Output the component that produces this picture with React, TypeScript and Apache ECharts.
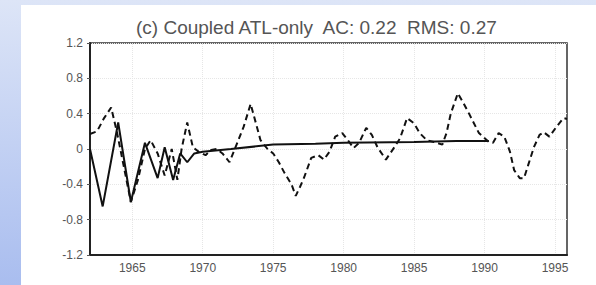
import React, { useEffect, useRef } from "react";
import * as echarts from "echarts";

const titleText = "(c) Coupled ATL-only  AC: 0.22  RMS: 0.27";

const xTickYears = [1965, 1970, 1975, 1980, 1985, 1990, 1995];
const yTickValues = [-1.2, -0.8, -0.4, 0, 0.4, 0.8, 1.2];

// dashed series (observed)
const dashedYears = [
  1962.0, 1962.5, 1963.0, 1963.5, 1963.9, 1964.4, 1964.9, 1965.4, 1965.9, 1966.3,
  1966.8, 1967.3, 1967.8, 1968.2, 1968.5, 1968.9, 1969.3, 1969.7, 1970.2, 1970.6,
  1971.0, 1971.4, 1971.9, 1972.4, 1972.9, 1973.4, 1974.1, 1974.6, 1975.0, 1975.4,
  1975.8, 1976.3, 1976.6, 1976.9, 1977.2, 1977.7, 1978.2, 1978.6, 1979.0, 1979.4,
  1979.9, 1980.3, 1980.7, 1981.1, 1981.6, 1982.0, 1982.4, 1983.0, 1983.6, 1984.0,
  1984.5, 1985.0, 1985.4, 1985.9, 1986.4, 1987.0, 1987.3, 1987.6, 1988.1, 1988.5,
  1988.9, 1989.6, 1990.3, 1990.6, 1991.0, 1991.4, 1991.8, 1992.1, 1992.5, 1992.8,
  1993.1, 1993.5, 1993.9, 1994.2, 1994.6, 1995.1, 1995.6, 1995.85,
];
const dashedValues = [
  0.17, 0.2, 0.35, 0.47, 0.2, -0.2, -0.6, -0.35, 0.0, 0.1,
  -0.05, -0.3, 0.0, -0.35, 0.0, 0.3, 0.02, -0.03, -0.07, -0.01,
  0.0, -0.05, -0.15, 0.05, 0.25, 0.51, 0.1, 0.0, -0.05, -0.15,
  -0.27, -0.4, -0.53, -0.43, -0.32, -0.1, -0.07, -0.12, -0.03, 0.14,
  0.18, 0.1, 0.01, 0.07, 0.24, 0.16, 0.02, -0.12, 0.02, 0.12,
  0.35, 0.29, 0.18, 0.1, 0.08, 0.05, 0.18, 0.4, 0.63, 0.52,
  0.4, 0.18, 0.08, 0.07, 0.18, 0.14, -0.03, -0.24, -0.33, -0.33,
  -0.18, 0.02, 0.16, 0.19, 0.14, 0.25, 0.35, 0.34,
];

// solid series (model)
const solidYears = [
  1962.0, 1962.9, 1964.0, 1964.9, 1965.9, 1966.8, 1967.3, 1967.9, 1968.4, 1968.9,
  1969.4, 1970.0, 1972.0, 1975.0, 1978.0, 1980.0, 1985.0, 1988.0, 1990.3,
];
const solidValues = [
  0.0, -0.65, 0.3, -0.6, 0.07, -0.33, 0.02, -0.35, -0.05, -0.15,
  -0.05, -0.03, 0.0, 0.05, 0.06, 0.07, 0.08, 0.09, 0.09,
];

export default function App() {
  const ref = useRef<HTMLDivElement>(null);
  useEffect(() => {
    if (!ref.current) return;
    const chart = echarts.init(ref.current, undefined, { renderer: "svg" });
    const font = "Liberation Sans, Arial, sans-serif";
    chart.setOption({
      animation: false,
      backgroundColor: new echarts.graphic.LinearGradient(0, 0, 0, 1, [
        { offset: 0, color: "#dde5f7" },
        { offset: 1, color: "#a9bdef" },
      ]),
      graphic: [
        {
          type: "rect",
          z: -10,
          shape: { x: 21, y: 5, width: 575, height: 280 },
          style: { fill: "#ffffff" },
          silent: true,
        },
      ],
      title: {
        text: titleText,
        left: 131,
        top: 13,
        textStyle: {
          fontFamily: font,
          fontSize: 19,
          fontWeight: "normal",
          color: "#555555",
        },
      },
      grid: {
        left: 90,
        top: 43,
        right: 29,
        bottom: 30,
        show: true,
        borderColor: "#333333",
        borderWidth: 1.5,
        backgroundColor: "transparent",
      },
      xAxis: {
        type: "value",
        min: 1962,
        max: 1995.85,
        axisLine: { show: true, onZero: false, lineStyle: { color: "#222222", width: 2 } },
        axisTick: { show: false },
        splitLine: { show: false },
        axisLabel: {
          customValues: xTickYears,
          color: "#555555",
          fontFamily: font,
          fontSize: 12,
          margin: 7,
          formatter: (v: number) => String(Math.round(v)),
        },
      },
      yAxis: {
        type: "value",
        min: yTickValues[0],
        max: yTickValues[yTickValues.length - 1],
        interval: 0.4,
        axisLine: { show: true, onZero: false, lineStyle: { color: "#222222", width: 2 } },
        axisTick: { show: true, length: 3, lineStyle: { color: "#555555" } },
        splitLine: {
          show: true,
          lineStyle: { color: "#e6e6e6", type: "dotted", width: 1 },
        },
        axisLabel: {
          color: "#555555",
          fontFamily: font,
          fontSize: 12,
          margin: 7,
          formatter: (v: number) => {
            const r = Math.round(v * 10) / 10;
            return r === 0 ? "0" : String(r);
          },
        },
      },
      series: [
        {
          type: "line",
          data: solidYears.map((y, i) => [y, solidValues[i]]),
          showSymbol: false,
          lineStyle: { color: "#111111", width: 2 },
          markLine: {
            silent: true,
            symbol: "none",
            label: { show: false },
            lineStyle: { color: "#e6e6e6", type: "dotted", width: 1 },
            data: xTickYears.map((y) => ({ xAxis: y })),
            z: 0,
          },
          z: 3,
        },
        {
          type: "line",
          data: dashedYears.map((y, i) => [y, dashedValues[i]]),
          showSymbol: false,
          lineStyle: { color: "#111111", width: 2, type: [6, 4] },
          z: 4,
        },
      ],
    });
    return () => chart.dispose();
  }, []);
  return (
    <div style={{ position: "fixed", left: 0, top: 0, width: 596, height: 285 }}>
      <div ref={ref} style={{ width: 596, height: 285 }} />
    </div>
  );
}
